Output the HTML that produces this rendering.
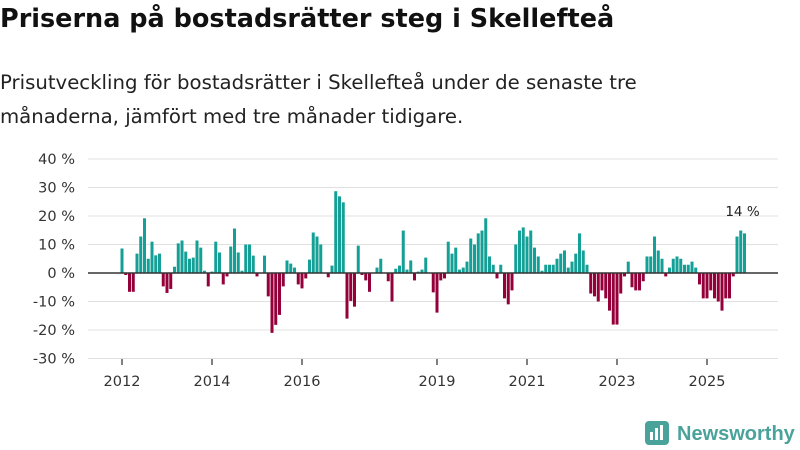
<!DOCTYPE html>
<html><head><meta charset="utf-8">
<style>
body{margin:0;background:#fff;font-family:"DejaVu Sans",sans-serif;}
#wrap{position:relative;width:800px;height:450px;overflow:hidden;}
h1{position:absolute;left:0;top:4px;margin:0;font-size:25.5px;font-weight:bold;color:#111;}
p{position:absolute;left:0;top:66px;margin:0;font-size:19.7px;line-height:34px;color:#222;}
</style></head><body>
<div id="wrap">
<h1>Priserna på bostadsrätter steg i Skellefteå</h1>
<p>Prisutveckling för bostadsrätter i Skellefteå under de senaste tre<br>månaderna, jämfört med tre månader tidigare.</p>
<svg id="chart" width="800" height="450" style="position:absolute;left:0;top:0"></svg>
</div>
<script>
const values=[8.6,-0.7,-6.6,-6.6,6.8,12.8,19.2,5,11,6.2,6.8,-4.7,-7,-5.6,2.2,10.4,11.4,7.5,5,5.4,11.4,8.9,0.8,-4.7,0.5,11,7.2,-4,-1.2,9.3,15.6,7.2,0.8,10,10,6.1,-1.2,0,6.1,-8.2,-21,-18.2,-14.7,-4.7,4.4,3.3,1.9,-4,-5.4,-1.9,4.7,14.2,12.8,10,0,-1.5,2.6,28.7,26.9,24.8,-16,-9.8,-11.8,9.6,-0.7,-2.6,-6.6,0,1.9,5,0,-2.9,-10,1.5,2.6,14.9,1.2,4.4,-2.6,0.5,1.2,5.4,0,-6.8,-13.9,-2.6,-1.9,11,6.8,8.9,1.2,1.9,4,12.1,10,13.9,14.9,19.2,5.8,2.9,-1.9,2.9,-8.9,-11,-6.1,10,14.9,16,12.8,14.9,8.9,5.8,0.8,2.9,2.9,2.9,5,6.8,7.9,1.9,4,6.8,13.9,7.9,2.9,-7.2,-8.2,-10,-6.1,-8.9,-13.2,-18.1,-18.1,-7.2,-1.2,4,-5,-6.1,-6.1,-2.9,5.8,5.8,12.8,7.9,5,-1.2,1.9,5,5.8,5,2.9,2.9,4,1.9,-4,-8.9,-8.9,-6.1,-8.9,-10,-13.2,-8.9,-8.9,-1.2,12.8,14.9,13.9];
const startYear=2012;
const yTicks=[40,30,20,10,0,-10,-20,-30];
const xTickYears=[2012,2014,2016,2019,2021,2023,2025];
const lastLabel="14 %";
const NS="http://www.w3.org/2000/svg";
const svg=document.getElementById('chart');
const FONT='DejaVu Sans, sans-serif';
const y=v=>273-v*2.85;
const xm=i=>122+i*3.75;
function mk(t,a,p){const e=document.createElementNS(NS,t);for(const k in a)e.setAttribute(k,a[k]);(p||svg).appendChild(e);return e;}
yTicks.forEach(t=>{
  const g=mk('line',{x1:88,x2:778,y1:y(t),y2:y(t),stroke:'#e0e0e0','stroke-width':1});
  
  
  const l=mk('text',{x:75,y:y(t)+5,'text-anchor':'end','font-size':14.5,fill:'#333','font-family':FONT});
  l.textContent=t+' %';
  
  
});
values.forEach((v,i)=>{
  const r=mk('rect',{x:xm(i)-1.5,width:3,y:Math.min(y(v),y(0)),height:Math.abs(y(v)-y(0)),fill:v>=0?'#14a096':'#94003a'});
  
  
});
const z=mk('line',{x1:88,x2:778,y1:y(0),y2:y(0),stroke:'#333','stroke-width':1.5});


xTickYears.forEach(yr=>{
  const x=xm((yr-startYear)*12);
  const t=mk('line',{x1:x,x2:x,y1:359,y2:365,stroke:'#555','stroke-width':1.5});
  
  
  const l=mk('text',{x:x,y:386,'text-anchor':'middle','font-size':14.5,fill:'#333','font-family':FONT});
  l.textContent=yr;
  
  
});
const li=values.length-1;
const ll=mk('text',{x:xm(li)-2,y:216,'text-anchor':'middle','font-size':13.5,fill:'#222','font-family':FONT});
ll.textContent=lastLabel;


const logo=mk('g',{});


mk('rect',{x:645,y:421,width:24,height:24,rx:4,fill:'#4aa39b'},logo);
mk('rect',{x:650,y:432,width:3,height:8,fill:'#fff'},logo);
mk('rect',{x:655,y:428,width:3,height:12,fill:'#fff'},logo);
mk('rect',{x:660,y:425,width:3,height:15,fill:'#fff'},logo);
const lt=mk('text',{x:677,y:440,'font-size':20,'font-weight':'bold',fill:'#4aa39b','font-family':'Liberation Sans, sans-serif'},logo);
lt.textContent='Newsworthy';
</script>
</body></html>
